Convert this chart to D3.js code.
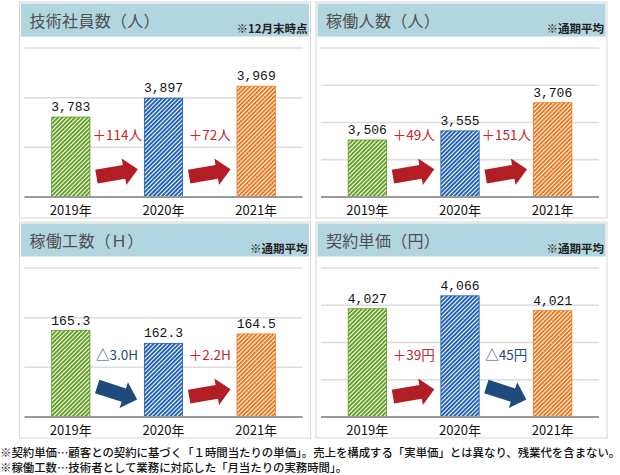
<!DOCTYPE html>
<meta charset="utf-8">
<script src="https://d3js.org/d3.v7.min.js"></script>
<style>
  body { margin: 0; background: #fff; }
  text { font-family: "Noto Sans CJK JP", "Noto Sans", sans-serif; }
  .val { font-family: "Liberation Mono", "DejaVu Sans Mono", monospace; font-size: 13px; fill: #111; }
</style>
<body>
<svg id="vis" width="620" height="475"></svg>
<script>
// data
var years = ["2019年", "2020年", "2021年"];
var titles = ["技術社員数（人）", "稼働人数（人）", "稼働工数（Ｈ）", "契約単価（円）"];
var notes = ["※12月末時点", "※通期平均", "※通期平均", "※通期平均"];
var engineers = [3783, 3897, 3969];
var activePeople = [3506, 3555, 3706];
var workHours = [165.3, 162.3, 164.5];
var unitPrice = [4027, 4066, 4021];
var units = ["人", "人", "H", "円"];
var formats = [",", ",", ".1f", ","];
var domains = [[3300, 4200], [3200, 4000], [145, 180], [3700, 4150]];
var gridCounts = [3, 4, 3, 4];
var footnotes = [
  "※契約単価…顧客との契約に基づく「１時間当たりの単価」。売上を構成する「実単価」とは異なり、残業代を含まない。",
  "※稼働工数…技術者として業務に対応した「月当たりの実務時間」。"
];

var series = [engineers, activePeople, workHours, unitPrice];
var barColors = ["#5f9e1e", "#1a5cb0", "#ee7314"];
var upColor = "#b31e24", downColor = "#1f4a7c";
var upText = "#c4262c", downText = "#1f4e79";

var svg = d3.select("#vis");

// stripe patterns
var defs = svg.append("defs");
barColors.forEach(function(c, i) {
  var p = defs.append("pattern")
    .attr("id", "stripe" + i)
    .attr("patternUnits", "userSpaceOnUse")
    .attr("width", 3).attr("height", 3)
    .attr("patternTransform", "rotate(45)");
  p.append("rect").attr("width", 3).attr("height", 3).attr("fill", "#fff");
  p.append("rect").attr("width", 1.9).attr("height", 3).attr("fill", c);
});

var panelX = [19.5, 316], panelY = [2, 222];
var panelW = 291, panelH = 216;

series.forEach(function(vals, k) {
  var px = panelX[k % 2], py = panelY[Math.floor(k / 2)];
  var g = svg.append("g").attr("transform", "translate(" + px + "," + py + ")");

  g.append("rect")
    .attr("x", 0).attr("y", 0)
    .attr("width", panelW).attr("height", panelH)
    .attr("fill", "#fff").attr("stroke", "#d6d6d6");
  g.append("rect")
    .attr("x", 1.5).attr("y", 1.5)
    .attr("width", panelW - 3).attr("height", 33)
    .attr("fill", "#b2d6e0");
  g.append("text")
    .attr("x", 10).attr("y", 18)
    .attr("dominant-baseline", "central")
    .attr("font-size", "16px")
    .attr("letter-spacing", "0.3px")
    .attr("fill", "#4f4f4f")
    .text(titles[k]);
  g.append("text")
    .attr("x", 288).attr("y", 31)
    .attr("text-anchor", "end")
    .attr("font-size", "11.5px")
    .attr("font-weight", "bold")
    .attr("fill", "#222")
    .text(notes[k]);

  var x = d3.scaleBand()
    .domain(years)
    .range([5, 283])
    .paddingInner(0.587)
    .paddingOuter(0.293);
  var y = d3.scaleLinear()
    .domain(domains[k])
    .range([195, 46]);

  var lo = domains[k][0], hi = domains[k][1], n = gridCounts[k];
  var grid = d3.range(1, n + 1).map(function(i) { return lo + i * (hi - lo) / n; });

  g.selectAll(".grid")
    .data(grid)
    .enter().append("line")
      .attr("x1", 5).attr("x2", 283)
      .attr("y1", function(d) { return y(d); })
      .attr("y2", function(d) { return y(d); })
      .attr("stroke", "#dcdcdc")
      .attr("stroke-width", 1.5);

  g.selectAll(".bar")
    .data(vals)
    .enter().append("rect")
      .attr("x", function(d, i) { return x(years[i]); })
      .attr("y", function(d) { return y(d); })
      .attr("width", x.bandwidth())
      .attr("height", function(d) { return y(lo) - y(d); })
      .attr("fill", function(d, i) { return "url(#stripe" + i + ")"; })
      .attr("stroke", function(d, i) { return barColors[i]; })
      .attr("stroke-width", 0.8);

  g.append("line")
    .attr("x1", 5).attr("x2", 283)
    .attr("y1", y(lo)).attr("y2", y(lo))
    .attr("stroke", "#9a9a9a")
    .attr("stroke-width", 2);

  var fmt = d3.format(formats[k]);
  g.selectAll(".val")
    .data(vals)
    .enter().append("text")
      .attr("class", "val")
      .attr("x", function(d, i) { return x(years[i]) + x.bandwidth() / 2; })
      .attr("y", function(d) { return y(d) - 6; })
      .attr("text-anchor", "middle")
      .text(function(d) { return fmt(d); });

  g.selectAll(".year")
    .data(years)
    .enter().append("text")
      .attr("x", function(d) { return x(d) + x.bandwidth() / 2; })
      .attr("y", 207.5)
      .attr("text-anchor", "middle")
      .attr("dominant-baseline", "central")
      .attr("font-size", "13px")
      .attr("fill", "#111")
      .text(function(d) { return d; });

  // year-on-year changes with arrows
  var changes = vals.slice(1).map(function(v, i) { return v - vals[i]; });
  changes.forEach(function(c, i) {
    var cx = (x(years[i]) + x(years[i + 1]) + x.bandwidth()) / 2;
    var up = c >= 0;
    var num = formats[k] == ".1f" ? Math.abs(c).toFixed(1) : Math.round(Math.abs(c));
    g.append("text")
      .attr("x", cx).attr("y", y(lo) - 63)
      .attr("text-anchor", "middle")
      .attr("dominant-baseline", "central")
      .attr("font-size", "13.5px")
      .attr("fill", up ? upText : downText)
      .text((up ? "＋" : "△") + num + units[k]);
    g.append("path")
      .attr("d", "M-21,-7L7,-7L7,-13.5L21,0L7,13.5L7,7L-21,7Z")
      .attr("fill", up ? upColor : downColor)
      .attr("transform", "translate(" + cx + "," + (y(lo) - 24) + ") rotate(" + (up ? -10 : 18) + ")");
  });
});

svg.selectAll(".foot")
  .data(footnotes)
  .enter().append("text")
    .attr("x", 0)
    .attr("y", function(d, i) { return 452 + i * 14.5; })
    .attr("dominant-baseline", "central")
    .attr("font-size", "11.4px")
    .attr("font-weight", 500)
    .attr("fill", "#111")
    .text(function(d) { return d; });
</script>
</body>
